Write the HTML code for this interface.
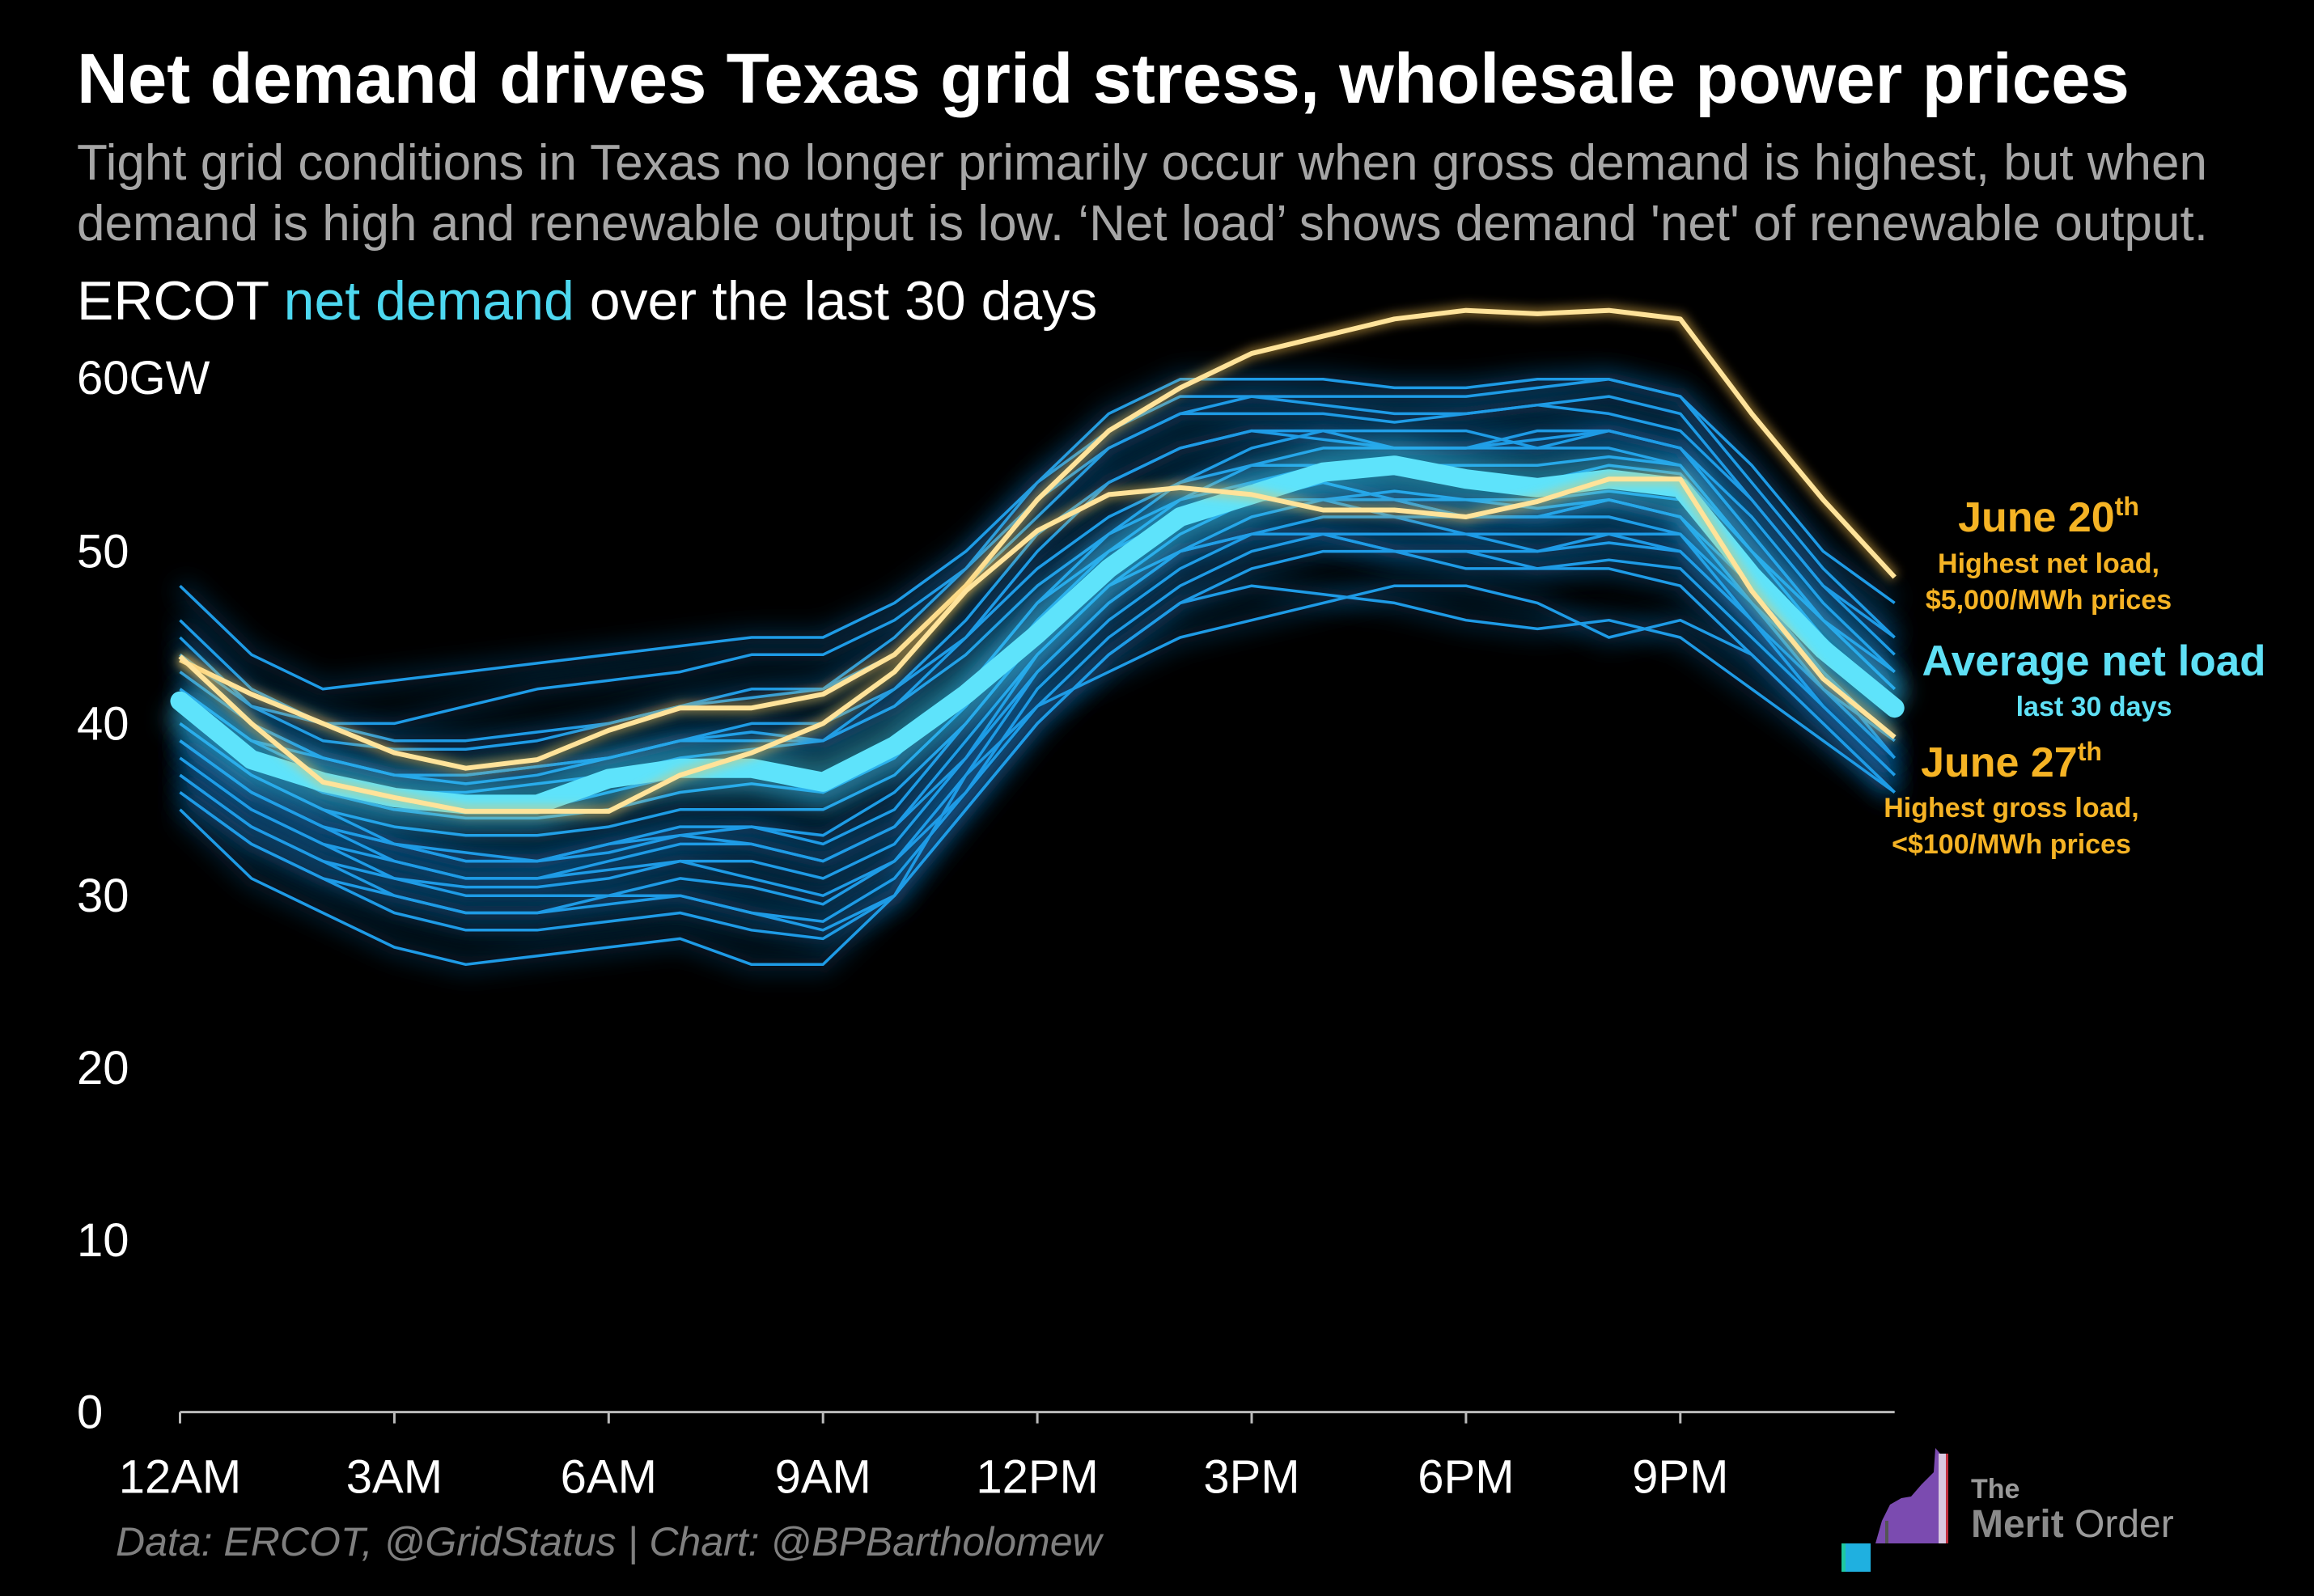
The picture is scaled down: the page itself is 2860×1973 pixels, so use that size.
<!DOCTYPE html>
<html><head><meta charset="utf-8">
<style>
html,body{margin:0;padding:0;background:#000;}
svg{display:block;font-family:"Liberation Sans",sans-serif;}
</style></head>
<body>
<svg id="chart" width="2860" height="1973" viewBox="0 0 2860 1973" xmlns="http://www.w3.org/2000/svg">
<defs>
<filter id="glow" x="-10%" y="-30%" width="120%" height="160%"><feGaussianBlur stdDeviation="14"/></filter>
<filter id="glow2" x="-10%" y="-30%" width="120%" height="160%"><feGaussianBlur stdDeviation="6"/></filter>
</defs>
<rect width="2860" height="1973" fill="#000"/>
<text x="95" y="127" fill="#fff" font-size="87" font-weight="bold">Net demand drives Texas grid stress, wholesale power prices</text>
<text x="95" y="222" fill="#a6a6a6" font-size="62">Tight grid conditions in Texas no longer primarily occur when gross demand is highest, but when</text>
<text x="95" y="297" fill="#a6a6a6" font-size="62">demand is high and renewable output is low. ‘Net load’ shows demand 'net' of renewable output.</text>
<text x="95" y="395" fill="#fff" font-size="68">ERCOT <tspan fill="#4dd8f0">net demand</tspan> over the last 30 days</text>
<text x="95" y="487" fill="#fff" font-size="58">60GW</text>
<g id="yticks"></g>
<g id="lines"></g>
<g id="xaxis"></g>
<g text-anchor="middle" font-weight="bold">
<text x="2532" y="657" fill="#f5b324" font-size="52">June 20<tspan font-size="32" dy="-20">th</tspan></text>
<text x="2532" y="708" fill="#f5b324" font-size="34">Highest net load,</text>
<text x="2532" y="753" fill="#f5b324" font-size="34">$5,000/MWh prices</text>
<text x="2588" y="835" fill="#5fe0f5" font-size="53">Average net load</text>
<text x="2588" y="885" fill="#5fe0f5" font-size="34">last 30 days</text>
<text x="2486" y="960" fill="#f5b324" font-size="52">June 27<tspan font-size="32" dy="-20">th</tspan></text>
<text x="2486" y="1010" fill="#f5b324" font-size="34">Highest gross load,</text>
<text x="2486" y="1055" fill="#f5b324" font-size="34">&lt;$100/MWh prices</text>
</g>
<text x="143" y="1923" fill="#7f7f7f" font-size="50" font-style="italic">Data: ERCOT, @GridStatus | Chart: @BPBartholomew</text>
<g>
<rect x="2276" y="1908" width="36" height="35" fill="#1fb0e0"/>
<rect x="2276" y="1908" width="5" height="35" fill="#1fc9a0"/>
<polygon points="2312,1908 2318,1908 2326,1880 2336,1860 2350,1852 2362,1850 2375,1835 2390,1820 2392,1790 2398,1797 2398,1908" fill="#7b4bb0"/>
<rect x="2330" y="1880" width="4" height="28" fill="#555"/>
<rect x="2396" y="1797" width="12" height="111" fill="#d8c8e0"/>
<rect x="2405" y="1797" width="3" height="111" fill="#c03040"/>
<text x="2436" y="1852" fill="#9a9a9a" font-size="34" font-weight="bold">The</text>
<text x="2436" y="1900" fill="#9a9a9a" font-size="48"><tspan font-weight="bold" fill="#8a8a8a">Merit</tspan> Order</text>
</g>
</svg>
<script>
const hours=[0,1,2,3,4,5,6,7,8,9,10,11,12,13,14,15,16,17,18,19,20,21,22,23,24];
const yTicks=[0,10,20,30,40,50];
const xTickLabels=["12AM","3AM","6AM","9AM","12PM","3PM","6PM","9PM"];
const xTickHours=[0,3,6,9,12,15,18,21];
const average=[41.3,37.9,36.6,35.7,35.3,35.3,36.8,37.4,37.4,36.6,38.7,41.7,45.2,49,52,53.3,54.6,55,54.2,53.7,54.2,53.7,48.6,44.3,40.9];
const june20=[43.7,41.7,40,38.3,37.4,37.9,39.6,40.9,40.9,41.7,44,48,53,57,59.5,61.5,62.5,63.5,64,63.8,64,63.5,58,53,48.5];
const june27=[43.9,40,36.6,35.7,34.9,34.9,34.9,37,38.3,40,43,47.7,51.2,53.3,53.7,53.3,52.4,52.4,52,52.9,54.2,54.2,47.7,42.6,39.2];
const day01=[35,31,29,27,26,26.5,27,27.5,26,26,30,37,41,43,45,46,47,48,48,47,45,46,44,40,36];
const day02=[48,44,42,42.5,43,43.5,44,44.5,45,45,47,50,54,58,60,60,60,59.5,59.5,60,60,59,55,50,47];
const day03=[45,41,40,40,41,42,42.5,43,44,44,46,49,53,56,58,59,59,59,59,59.5,60,59,54,49,45];
const day04=[44,41,39,38.5,38.5,39,40,41,42,42,44,48,52,56,58,58,58,57.5,58,58.5,58,57,53,48,44];
const day05=[42,39,37,36,36,36.5,37,38,38.5,39,42,46,51,54,56,57,57,56,56,57,57,56,52,47,43];
const day06=[40,37,35,34,33.5,33.5,34,35,35,35,37,41,46,50,53,55,56,56,56,56.5,57,56,51,46,42];
const day07=[39,36,34,32,31,31,32,33,33,32,34,38,43,47,50,52,53,53.5,53,53,53.5,53,48,43,39];
const day08=[38,35,33,31,30.5,30.5,31,32,31,30,32,36,42,46,49,51,52,52,52,52,53,52,47,42,38];
const day09=[37,34,32,30,29,29,30,30,29,28.5,31,36,41,45,48,50,51,51,51,50,51,51,46,41,37];
const day10=[36,33,31,29,28,28,28.5,29,28,27.5,30,35,40,44,47,49,50,50,50,49,49,48,44,40,36];
const day11=[41,38,36,35,34.5,34.5,35,36,36.5,36,38,42,47,51,54,56,57,57,57,56,56,55,50,45,41];
const day12=[43,40,38,37,37,37.5,38,39,40,40,42,45,49,52,54,55,55,54.5,54,54,55,54.5,50,46,43];
const day13=[39,36,34,33,32.5,32,32.5,33.5,34,33,35,40,45,49,52,54,54,53,52,52,53,52,47,42,39];
const day14=[42,39,38,37,37,37.5,38,39,39.5,39,41,44,48,51,53,54,55,55,55,55,55.5,55,50,46,42];
const day15=[38,35,33,32,31,31,31.5,32,32,31,33,38,44,48,51,53,54,53,52,52,52,51,47,43,38];
const day16=[40,37,35,33,32,32,33,34,34,33.5,36,40,45,49,52,53,53,52,51,51,51,50,46,41,37];
const day17=[46,42,40,39,39,39.5,40,41,41.5,42,45,49,54,57,59,59,58.5,58,58,58.5,59,58,53,48,45];
const day18=[37,34,32,31,30,30,30,31,30.5,29.5,32,37,43,47,50,51,51,50,49,49,49.5,49,45,41,37];
const day19=[41,38,36,35,35,35,36,37,37,36,38,42,47,50,52,53,53,53,53,52.5,53,52,48,44,41];
const day20=[39,36,34,33,32,32,33,33.5,33,32,34,39,44,48,50,51,51,50,50,50,50.5,50,46,42,38];
const day21=[44,40,38,37,36.5,37,38,39,39,39,41,45,50,54,56,57,56.5,56,56,56,57,56,51,46,42];
const day22=[36,33,31,30,29,29,29.5,30,29,28,30,35,40,44,47,48,47.5,47,46,45.5,46,45,42,39,36];
const days=[day01,day02,day03,day04,day05,day06,day07,day08,day09,day10,day11,day12,day13,day14,day15,day16,day17,day18,day19,day20,day21,day22];

const NS="http://www.w3.org/2000/svg";
const X0=222.5,XPH=88.3,Y0=1745.6,YPG=21.28;
const xs=h=>X0+h*XPH;
const ys=v=>Y0-v*YPG;
function mk(tag,attrs,parent){const e=document.createElementNS(NS,tag);for(const k in attrs)e.setAttribute(k,attrs[k]);parent.appendChild(e);return e;}
function pathD(vals){return vals.map((v,i)=>(i?"L":"M")+xs(hours[i]).toFixed(1)+","+ys(v).toFixed(1)).join("");}

const yt=document.getElementById("yticks");
yTicks.forEach(t=>{
  const e=mk("text",{x:95,y:ys(t)+20,fill:"#fff","font-size":58},yt);
  
  
  e.textContent=t;
});
const xa=document.getElementById("xaxis");
const base=mk("line",{x1:xs(0),x2:xs(24),y1:Y0,y2:Y0,stroke:"#bbb","stroke-width":3},xa);


xTickHours.forEach((h,i)=>{
  const tk=mk("line",{x1:xs(h),x2:xs(h),y1:Y0,y2:Y0+14,stroke:"#bbb","stroke-width":3},xa);
  
  
  const e=mk("text",{x:xs(h),y:Y0+100,fill:"#fff","font-size":58,"text-anchor":"middle"},xa);
  
  
  e.textContent=xTickLabels[i];
});
const g=document.getElementById("lines");
days.forEach(d=>{
  const p=mk("path",{d:pathD(d),fill:"none",stroke:"#1a7fd0","stroke-width":22,"stroke-opacity":0.25,filter:"url(#glow)"},g);
  
  
});
days.forEach(d=>{
  const p=mk("path",{d:pathD(d),fill:"none",stroke:"#1e9be6","stroke-width":3.5,"stroke-linejoin":"round"},g);
  
  
});
const ag=mk("path",{d:pathD(average),fill:"none",stroke:"#3fd0f5","stroke-width":60,"stroke-opacity":0.45,filter:"url(#glow)"},g);


const av=mk("path",{d:pathD(average),fill:"none",stroke:"#5ee3fb","stroke-width":24,"stroke-linejoin":"round","stroke-linecap":"round"},g);


[[june20,'june-20-line'],[june27,'june-27-line']].forEach(([d,n])=>{
  const gl=mk("path",{d:pathD(d),fill:"none",stroke:"#f5c050","stroke-width":14,"stroke-opacity":0.5,filter:"url(#glow2)"},g);
  
  
  const p=mk("path",{d:pathD(d),fill:"none",stroke:"#ffe39a","stroke-width":6,"stroke-linejoin":"round"},g);
  
  
});
</script>
</body></html>
